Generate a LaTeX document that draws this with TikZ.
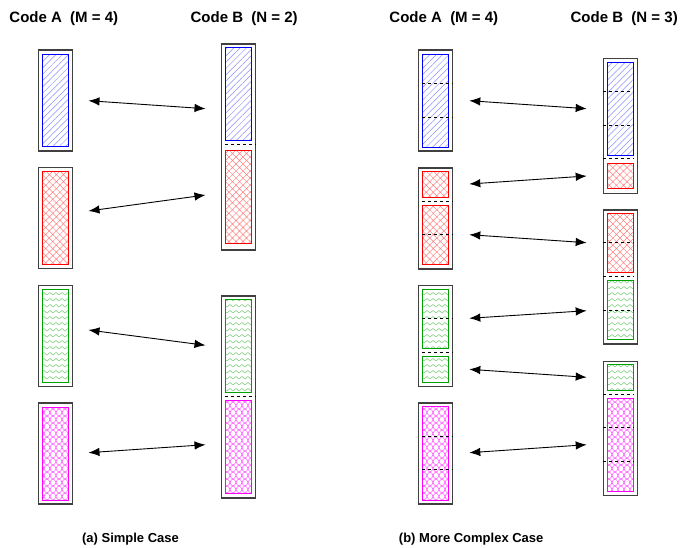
\documentclass[tikz,border=0pt]{standalone}
\usepackage{fontspec}
\setmainfont{Liberation Sans}
\usetikzlibrary{arrows.meta, patterns.meta, positioning}
\definecolor{CodeBlue}{HTML}{0000FF}
\definecolor{CodeRed}{HTML}{FF0000}
\definecolor{CodeGreen}{HTML}{00A000}
\definecolor{CodeMagenta}{HTML}{FF00FF}

\tikzdeclarepattern{
  name=zigzag,
  type=uncolored,
  bounding box={(0pt,0pt) and (6pt,6pt)},
  tile size={(6pt,6pt)},
  code={
    \draw[line width=0.5pt] (0pt,2pt) -- (3pt,4.5pt) -- (6pt,2pt);
  }
}
\tikzdeclarepattern{
  name=fishnet,
  type=uncolored,
  bounding box={(0pt,0pt) and (12pt,7pt)},
  tile size={(12pt,7pt)},
  code={
    \draw[line width=0.5pt] (0pt,0pt) .. controls (3pt,0pt) and (3pt,7pt) .. (6pt,7pt)
      .. controls (9pt,7pt) and (9pt,0pt) .. (12pt,0pt);
    \draw[line width=0.5pt] (0pt,7pt) .. controls (3pt,7pt) and (3pt,0pt) .. (6pt,0pt)
      .. controls (9pt,0pt) and (9pt,7pt) .. (12pt,7pt);
  }
}

\tikzset{
  codebox/.style={draw=black!75, line width=1.4bp, minimum width=34bp, inner sep=0pt, anchor=north},
  chunk/.style={line width=1.1bp, minimum width=26bp, inner sep=0pt, anchor=north},
  bchunk/.style={chunk, draw=CodeBlue, pattern={Lines[angle=45,distance=4.5pt,line width=0.5pt]}, pattern color=CodeBlue!45},
  rchunk/.style={chunk, draw=CodeRed, pattern={Hatch[angle=45,distance=5pt,line width=0.5pt]}, pattern color=CodeRed!50},
  gchunk/.style={chunk, draw=CodeGreen, pattern=zigzag, pattern color=CodeGreen!55},
  mchunk/.style={chunk, draw=CodeMagenta, pattern=fishnet, pattern color=CodeMagenta!70},
  cut/.style={line width=0.9bp, dash pattern=on 3.5bp off 2.5bp},
  link/.style={{Latex[length=11bp,width=8.5bp]}-{Latex[length=11bp,width=8.5bp]}, line width=0.9bp},
  heading/.style={font=\fontsize{15bp}{18bp}\selectfont\bfseries},
  subcap/.style={font=\fontsize{13bp}{16bp}\selectfont\bfseries}
}

\begin{document}
\begin{tikzpicture}[x=1bp, y=-1bp]
\useasboundingbox (0,0) rectangle (682,548);

% headings
\node[heading] (sHA) at (63.8,18.3) {Code A\ \ (M = 4)};
\node[heading] (sHB) at (244.2,18.3) {Code B\ \ (N = 2)};
\node[heading] (cHA) at (443.8,18.3) {Code A\ \ (M = 4)};
\node[heading] (cHB) at (624.2,18.3) {Code B\ \ (N = 3)};

% (a) simple case -- code A
\foreach \sty [count=\i] in {bchunk, rchunk, gchunk, mchunk} {
  \node[codebox, minimum height=101bp] (sA\i) at (55.5, {49.3+117.67*(\i-1)}) {};
  \node[\sty, minimum height=92.7bp] (sa\i) at (55.5, {53.9+117.67*(\i-1)}) {};
}

% (a) simple case -- code B
\node[codebox, minimum height=206bp] (sB1) at (238.5,43.3) {};
\node[bchunk, minimum height=92.7bp] (sb1) at (238.5,47.3) {};
\node[rchunk, minimum height=92.7bp] (sb2) at (238.5,150.3) {};
\draw[cut] (sb1.west |- 0,144.5) -- (sB1.east |- 0,144.5);
\node[codebox, minimum height=202bp] (sB2) at (238.5,295.3) {};
\node[gchunk, minimum height=93bp] (sb3) at (238.5,299.3) {};
\node[mchunk, minimum height=92.7bp] (sb4) at (238.5,400.3) {};
\draw[cut] (sb3.west |- 0,396.3) -- (sB2.east |- 0,396.3);

\foreach \ya/\yb [count=\i] in {100.7/108.7, 211/195, 330/345.3, 452.7/444.7} {
  \coordinate (sl\i) at (88.5,\ya);
  \coordinate (sr\i) at (205.5,\yb);
  \draw[link] (sl\i) -- (sr\i);
}

% (b) more complex case -- code A
\node[codebox, minimum height=101bp] (cA1) at (435.5,49.3) {};
\node[bchunk, minimum height=92.7bp] (ca1) at (435.5,54) {};
\foreach \y in {83.3, 117} \draw[cut] (ca1.west |- 0,\y) -- (cA1.east |- 0,\y);

\node[codebox, minimum height=101bp] (cA2) at (435.5,167.3) {};
\node[rchunk, minimum height=25.7bp] (ca2) at (435.5,171) {};
\node[rchunk, minimum height=59bp] (ca3) at (435.5,205.3) {};
\foreach \y in {201, 234} \draw[cut] (ca2.west |- 0,\y) -- (cA2.east |- 0,\y);

\node[codebox, minimum height=101.3bp] (cA3) at (435.5,284.7) {};
\node[gchunk, minimum height=59bp] (ca4) at (435.5,289) {};
\node[gchunk, minimum height=25.4bp] (ca5) at (435.5,356.3) {};
\foreach \y in {318.7, 352} \draw[cut] (ca4.west |- 0,\y) -- (cA3.east |- 0,\y);

\node[codebox, minimum height=101bp] (cA4) at (435.5,402.3) {};
\node[mchunk, minimum height=93.4bp] (ca6) at (435.5,406.3) {};
\foreach \y in {436, 469.7} \draw[cut] (ca6.west |- 0,\y) -- (cA4.east |- 0,\y);

% (b) more complex case -- code B
\node[codebox, minimum height=135bp] (cB1) at (620.5,57.7) {};
\node[bchunk, minimum height=92.4bp] (cb1) at (620.5,62.3) {};
\node[rchunk, minimum height=25.3bp] (cb2) at (620.5,163) {};
\foreach \y in {91.7, 125.3, 158.7} \draw[cut] (cB1.west |- 0,\y) -- (cb1.east |- 0,\y);

\node[codebox, minimum height=134bp] (cB2) at (620.5,209.3) {};
\node[rchunk, minimum height=58.7bp] (cb3) at (620.5,213.3) {};
\node[gchunk, minimum height=59.3bp] (cb4) at (620.5,280) {};
\foreach \y in {242.7, 276, 310.3} \draw[cut] (cB2.west |- 0,\y) -- (cb3.east |- 0,\y);

\node[codebox, minimum height=134.3bp] (cB3) at (620.5,360.7) {};
\node[gchunk, minimum height=25.7bp] (cb5) at (620.5,364.3) {};
\node[mchunk, minimum height=92.7bp] (cb6) at (620.5,398.3) {};
\foreach \y in {394.3, 427.7, 461.3} \draw[cut] (cB3.west |- 0,\y) -- (cb5.east |- 0,\y);

\foreach \ya/\yb [count=\i] in {100.7/108.7, 184/176, 234.7/242.7, 318.3/310.7, 369.3/377.3, 452.7/444.7} {
  \coordinate (cl\i) at (469.3,\ya);
  \coordinate (cr\i) at (586.7,\yb);
  \draw[link] (cl\i) -- (cr\i);
}

% captions
\node[subcap] (capS) at (130.5,538.7) {(a) Simple Case};
\node[subcap] (capC) at (471.2,538.7) {(b) More Complex Case};
\end{tikzpicture}
\end{document}
